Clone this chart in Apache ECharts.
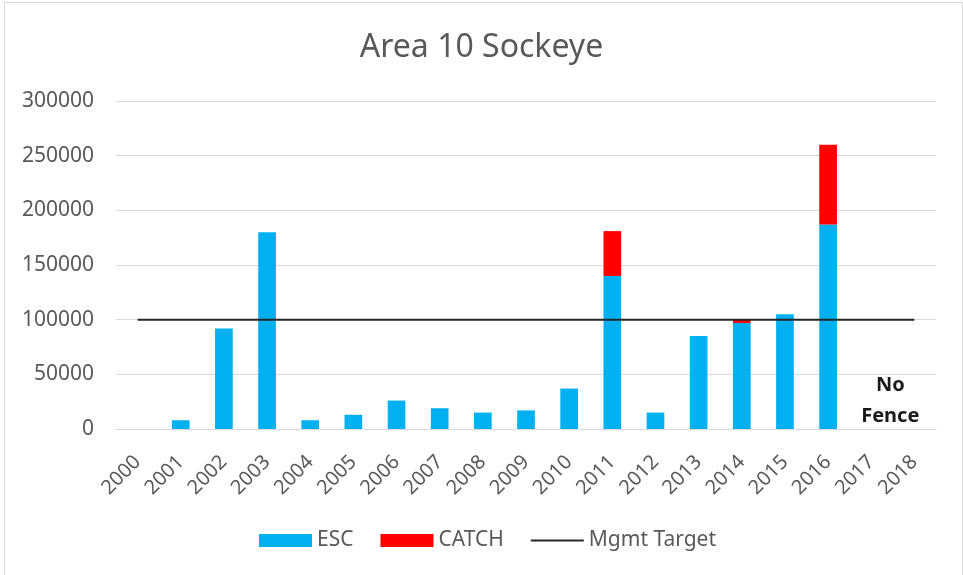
<!DOCTYPE html>
<html>
<head>
<meta charset="utf-8">
<script src="https://cdn.jsdelivr.net/npm/echarts@6/dist/echarts.min.js"></script>
<style>
  html, body { margin: 0; padding: 0; background: #fff; }
  #frame { position: absolute; left: 4px; top: 2px; right: 0px; bottom: -6px; border: 1px solid #d9d9d9; }
  #chart { position: absolute; left: 0; top: 0; width: 963px; height: 575px; }
</style>
</head>
<body>
<div id="frame"></div>
<div id="chart"></div>
<script>
// Sockeye returns per year: escapement (ESC) and catch stacked, with the management target
const years = ['2000','2001','2002','2003','2004','2005','2006','2007','2008','2009',
               '2010','2011','2012','2013','2014','2015','2016','2017','2018'];
const esc = [null, 8000, 92000, 180000, 8000, 13000, 26000, 19000, 15000, 17000,
             37000, 140000, 15000, 85000, 97000, 105000, 187000, null, null];
const catchFish = [null, null, null, null, null, null, null, null, null, null,
                   null, 41000, null, null, 3000, null, 73000, null, null];
const mgmtTarget = [100000, 100000, 100000, 100000, 100000, 100000, 100000, 100000, 100000, 100000,
                    100000, 100000, 100000, 100000, 100000, 100000, 100000, 100000, 100000];
const yTicks = { min: 0, max: 300000, interval: 50000 };

const textColor = '#595959';
const fontFamily = '"Noto Sans", "Open Sans", sans-serif';

const chart = echarts.init(document.getElementById('chart'), null, { renderer: 'canvas' });
chart.setOption({
  animation: false,
  backgroundColor: 'transparent',
  title: {
    text: 'Area 10 Sockeye',
    left: 'center',
    top: 27,
    textStyle: { color: textColor, fontSize: 32, fontWeight: 'normal', fontFamily: fontFamily }
  },
  legend: {
    left: 254,
    top: 525,
    itemWidth: 53,
    itemHeight: 13,
    itemGap: 27,
    textStyle: { color: textColor, fontSize: 21, fontFamily: fontFamily },
    data: [
      { name: 'ESC', icon: 'rect' },
      { name: 'CATCH', icon: 'rect' },
      // plain line swatch for the target, no marker
      { name: 'Mgmt Target', icon: 'path://M0,0 L53,0 L53,2 L0,2 Z' }
    ]
  },
  grid: { left: 116, right: 27, top: 101, bottom: 146 },
  xAxis: {
    type: 'category',
    data: years,
    boundaryGap: true,
    axisLine: { lineStyle: { color: '#d9d9d9', width: 1 } },
    axisTick: { show: false },
    axisLabel: {
      rotate: 45,
      interval: 0,
      margin: 30,
      color: textColor,
      fontSize: 20,
      fontFamily: fontFamily
    }
  },
  yAxis: {
    type: 'value',
    min: yTicks.min,
    max: yTicks.max,
    interval: yTicks.interval,
    axisLine: { show: false },
    axisTick: { show: false },
    splitLine: { lineStyle: { color: '#d9d9d9', width: 1 } },
    axisLabel: {
      margin: 22,
      color: textColor,
      fontSize: 21,
      fontFamily: fontFamily,
      formatter: function (v) { return String(v); }
    }
  },
  series: [
    {
      name: 'ESC',
      type: 'bar',
      stack: 'total',
      barWidth: '41%',
      itemStyle: { color: '#00b0f0' },
      data: esc,
      markPoint: {
        symbol: 'circle',
        symbolSize: 0,
        silent: true,
        label: {
          show: true,
          formatter: 'No\nFence',
          color: '#1a1a1a',
          fontSize: 20,
          fontWeight: 'bold',
          fontFamily: fontFamily,
          lineHeight: 31,
          align: 'center',
          verticalAlign: 'middle',
          offset: [19, 0]
        },
        data: [{ coord: ['2017', 26000] }]
      }
    },
    {
      name: 'CATCH',
      type: 'bar',
      stack: 'total',
      barWidth: '41%',
      itemStyle: { color: '#ff0000' },
      data: catchFish
    },
    {
      name: 'Mgmt Target',
      type: 'line',
      symbol: 'none',
      z: 5,
      lineStyle: { color: '#262626', width: 2 },
      itemStyle: { color: '#262626' },
      data: mgmtTarget
    }
  ]
});
</script>
</body>
</html>
